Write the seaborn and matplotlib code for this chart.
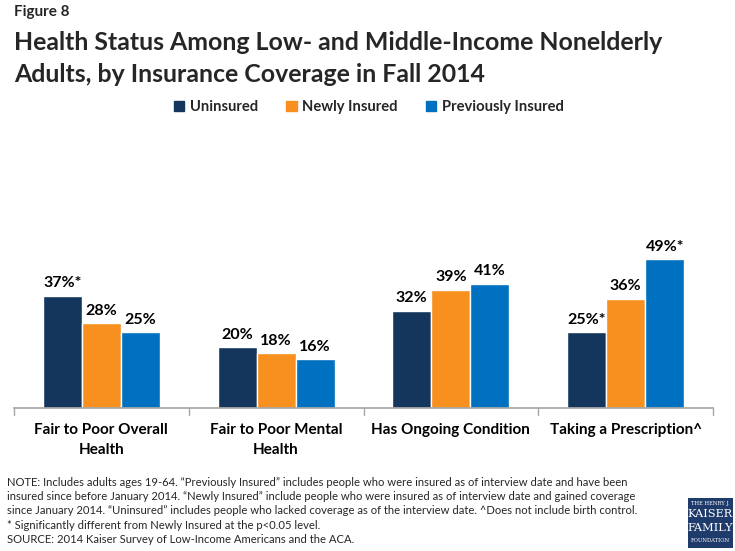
import matplotlib
matplotlib.use("Agg")
import matplotlib.pyplot as plt
import seaborn as sns
import pandas as pd
from matplotlib.patches import Rectangle

categories = ["Fair to Poor Overall\nHealth", "Fair to Poor Mental\nHealth",
              "Has Ongoing Condition", "Taking a Prescription^"]
series = ["Uninsured", "Newly Insured", "Previously Insured"]
uninsured = [37, 20, 32, 25]
newly = [28, 18, 39, 36]
previously = [25, 16, 41, 49]
labels_uninsured = ["37%*", "20%", "32%", "25%*"]
labels_newly = ["28%", "18%", "39%", "36%"]
labels_previously = ["25%", "16%", "41%", "49%*"]
colors = ["#14365d", "#f7901e", "#0070c0"]

sns.set_theme(style="white")
plt.rcParams['font.family'] = ['Lato', 'DejaVu Sans']

rows = []
for s, vals in zip(series, [uninsured, newly, previously]):
    for c, v in zip(categories, vals):
        rows.append({"Category": c, "Series": s, "Value": v})
df = pd.DataFrame(rows)

fig = plt.figure(figsize=(7.35, 5.51), dpi=100)
ax = fig.add_axes([14/735, (551-408)/551, (713-14)/735, (408-226)/551])
sns.barplot(data=df, x="Category", y="Value", hue="Series", palette=colors,
            order=categories, hue_order=series, width=0.67, saturation=1,
            ax=ax, legend=False)
ax.set_ylim(0, 60)
ax.set_xlim(-0.5, 3.5)
ax.set_xlabel("")
ax.set_ylabel("")
ax.set_yticks([])
for sp in ["top", "right", "left"]:
    ax.spines[sp].set_visible(False)
ax.spines["bottom"].set_color("#a6a6a6")
ax.set_xticks([0, 1, 2, 3])
ax.set_xticklabels(categories, fontsize=11, fontweight="bold", color="black",
                   linespacing=1.5)
ax.tick_params(axis="x", length=0, pad=11)
for b in [-0.5, 0.5, 1.5, 2.5, 3.5]:
    ax.plot([b, b], [0, -2.2], color="#a6a6a6", lw=1, clip_on=False)

for cont, labs in zip(ax.containers, [labels_uninsured, labels_newly, labels_previously]):
    ax.bar_label(cont, labels=labs, padding=4, fontsize=11.5, fontweight="bold", color="black")

fig.text(14/735, 1-12/551, "Figure 8", fontsize=11, fontweight="bold", va="center", ha="left")
fig.text(14/735, 1-42/551, "Health Status Among Low- and Middle-Income Nonelderly",
         fontsize=17.9, fontweight="bold", va="center", ha="left")
fig.text(14/735, 1-74/551, "Adults, by Insurance Coverage in Fall 2014",
         fontsize=17.9, fontweight="bold", va="center", ha="left")

handles = [Rectangle((0, 0), 1, 1, color=c) for c in colors]
fig.legend(handles, series, loc="center", bbox_to_anchor=(369/735, 1-107/551), ncol=3,
           frameon=False, prop={"weight": "bold", "size": 10.6}, handlelength=0.7,
           handleheight=0.7, handletextpad=0.4, columnspacing=1.9)

note = ("NOTE: Includes adults ages 19-64. \u201cPreviously Insured\u201d includes people who were insured as of interview date and have been\n"
        "insured since before January 2014. \u201cNewly Insured\u201d include people who were insured as of interview date and gained coverage\n"
        "since January 2014. \u201cUninsured\u201d includes people who lacked coverage as of the interview date. ^Does not include birth control.\n"
        "* Significantly different from Newly Insured at the p<0.05 level.\n"
        "SOURCE: 2014 Kaiser Survey of Low-Income Americans and the ACA.")
fig.text(7/735, 1-511/551, note, fontsize=8.1, va="center", ha="left", linespacing=1.38)

# logo
fig.patches.append(Rectangle((688/735, 1-548/551), 45/735, 50/551, transform=fig.transFigure,
                             fc="#1f3b6b", ec="none"))
logo_lines = [("THE HENRY J.", 3.8, 503), ("KAISER", 8.2, 514), ("FAMILY", 8.2, 528), ("FOUNDATION", 3.8, 541)]
for txt, fs, yy in logo_lines:
    fig.text(710.5/735, 1-yy/551, txt, fontsize=fs, color="white", family="DejaVu Serif",
             ha="center", va="center")

fig.savefig("out.png", dpi=100)
